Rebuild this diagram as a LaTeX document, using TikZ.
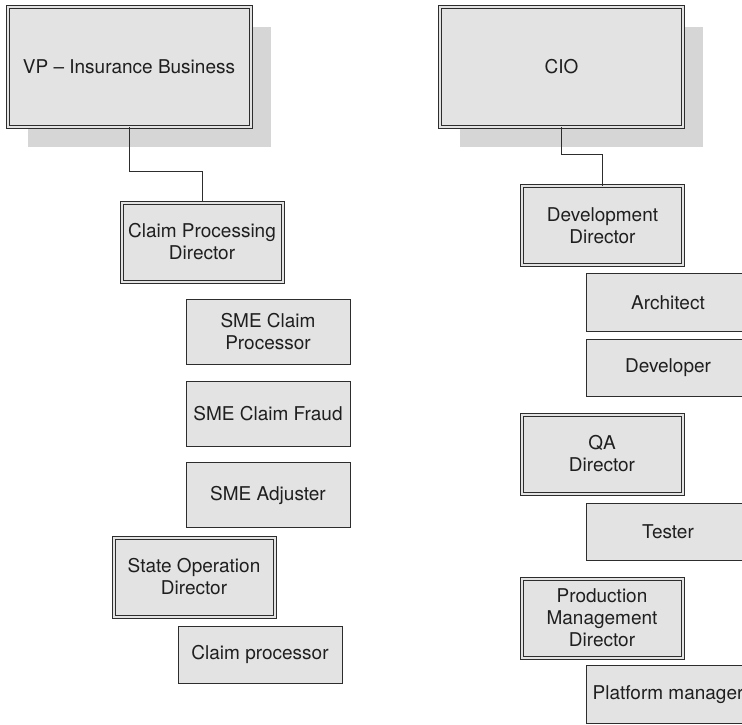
\documentclass[tikz,border=0pt]{standalone}
\usepackage{fontspec}
\setmainfont{TeX Gyre Heros}
\usetikzlibrary{shadows}
\definecolor{boxgray}{RGB}{227,227,227}
\definecolor{shadegray}{RGB}{214,214,214}
\definecolor{linegray}{RGB}{45,45,45}
\begin{document}
\begin{tikzpicture}[x=0.5pt,y=-0.5pt,font=\fontsize{9.5}{11}\selectfont,text=black!88,
  head/.style={draw=linegray,line width=0.5pt,double=boxgray,double distance=1pt,fill=boxgray,
    minimum width=121.5pt,minimum height=60pt,inner sep=0pt,
    drop shadow={shadow xshift=10pt,shadow yshift=-10pt,fill=shadegray,opacity=1}},
  director/.style={draw=linegray,line width=0.5pt,double=boxgray,double distance=1pt,fill=boxgray,
    minimum width=80.5pt,minimum height=39.5pt,inner sep=0pt,align=center},
  staff/.style={draw=linegray,line width=0.5pt,fill=boxgray,minimum width=82pt,inner sep=0pt,align=center},
  link/.style={draw=linegray,line width=0.5pt}]
\useasboundingbox (0,0) rectangle (742,724);
\clip (0,0) rectangle (742,724);
\node[head] (vp) at (129,66.5) {VP – Insurance Business};
\node[director] (claimdir) at (202,242) {Claim Processing\\Director};
\node[staff,minimum height=32.5pt] (smeproc) at (268,331.5) {SME Claim\\Processor};
\node[staff,minimum height=32.5pt] (smefraud) at (268,413.5) {SME Claim Fraud};
\node[staff,minimum height=32.5pt] (smeadj) at (268,495) {SME Adjuster};
\node[director] (statedir) at (194,577) {State Operation\\Director};
\node[staff,minimum height=28.5pt] (claimproc) at (260,654.5) {Claim processor};
\node[head] (cio) at (561.5,66.5) {CIO};
\node[director] (devdir) at (602.5,225.5) {Development\\Director};
\node[staff,minimum height=28.75pt] (arch) at (668,302.5) {Architect};
\node[staff,minimum height=28.75pt] (devr) at (668,368) {Developer};
\node[director] (qadir) at (602,454) {QA\\Director};
\node[staff,minimum height=28.75pt] (tester) at (668,532) {Tester};
\node[director] (proddir) at (602,618) {Production\\Management\\Director};
\node[staff,minimum height=28.75pt] (platform) at (668,694.5) {Platform manager};
\draw[link] (vp.south) -- ++(0,44) -| (claimdir.north);
\draw[link] (cio.south) -- ++(0,27) -| (devdir.north);
\end{tikzpicture}
\end{document}
